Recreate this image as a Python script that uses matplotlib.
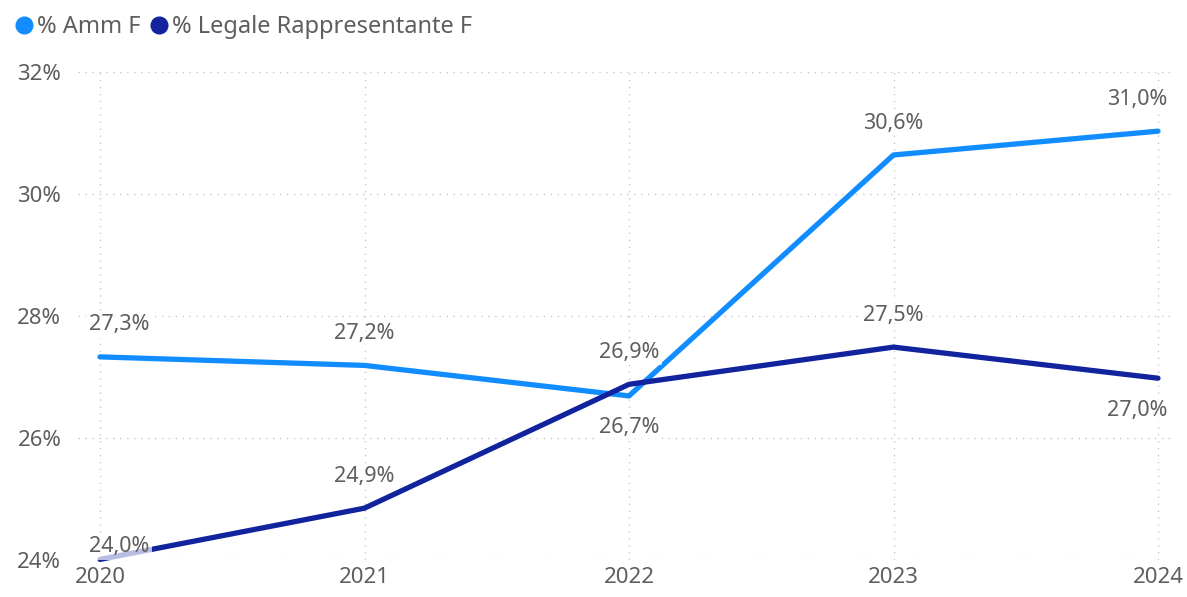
import matplotlib.pyplot as plt
from matplotlib.ticker import FuncFormatter

plt.rcParams["font.family"] = ["Noto Sans", "DejaVu Sans"]

years = [2020, 2021, 2022, 2023, 2024]
amm_f = [27.33, 27.19, 26.69, 30.64, 31.03]
legale_f = [24.01, 24.85, 26.88, 27.49, 26.98]
series_names = ["% Amm F", "% Legale Rappresentante F"]

# label placement: +1 above the point, -1 below
amm_side = [1, 1, -1, 1, 1]
legale_side = [1, 1, 1, 1, -1]

c_amm = "#118DFF"
c_leg = "#12239E"
txt = "#605E5C"

fig = plt.figure(figsize=(11.87, 5.97), dpi=100)
ax = fig.add_axes([78 / 1187, 1 - 560 / 597, (1175 - 78) / 1187, (560 - 72) / 597])

ax.plot(years, amm_f, color=c_amm, lw=3.8, solid_capstyle="round", clip_on=False, zorder=3)
ax.plot(years, legale_f, color=c_leg, lw=3.8, solid_capstyle="round", clip_on=False, zorder=3)

ax.set_xlim(2020 - 22 / 264.5, 2024 + 17 / 264.5)
ax.set_ylim(24, 32)
ax.set_xticks(years)
ax.set_yticks([24, 26, 28, 30, 32])
ax.yaxis.set_major_formatter(FuncFormatter(lambda v, p: f"{v:.0f}%"))

for s in ax.spines.values():
    s.set_visible(False)
ax.tick_params(length=0, labelsize=16, labelcolor=txt)
ax.tick_params(axis="y", pad=12)
ax.tick_params(axis="x", pad=5)
ax.grid(True, color="#C8C8C8", linestyle=(0, (1, 4)), lw=1)
ax.set_axisbelow(True)


def put_labels(vals, sides):
    for i, (x, v, s) in enumerate(zip(years, vals, sides)):
        lab = f"{v:.1f}%".replace(".", ",")
        dy = 23 * s
        if v - 24 < 0.3 and s > 0:
            dy = 9
        if i == 0:
            ha, dx = "left", -8
        elif i == len(years) - 1:
            ha, dx = "right", 7
        else:
            ha, dx = "center", 0
        ax.annotate(lab, (x, v), xytext=(dx, dy), textcoords="offset points",
                    ha=ha, va="center", fontsize=15.5, color=txt, zorder=5,
                    annotation_clip=False,
                    bbox=dict(boxstyle="square,pad=0.12", fc="white", ec="none", alpha=0.7))


put_labels(amm_f, amm_side)
put_labels(legale_f, legale_side)

# legend
h1 = plt.Line2D([], [], marker="o", ls="", color=c_amm, markersize=12)
h2 = plt.Line2D([], [], marker="o", ls="", color=c_leg, markersize=12)
leg = fig.legend([h1, h2], series_names, loc="upper left", bbox_to_anchor=(0.0, 0.995),
                 ncol=2, frameon=False, fontsize=17, handletextpad=0.05,
                 columnspacing=0.3, handlelength=1.0, handleheight=0.7,
                 borderaxespad=0.2, borderpad=0.3)
for t in leg.get_texts():
    t.set_color(txt)

fig.savefig("out.png", dpi=100)
